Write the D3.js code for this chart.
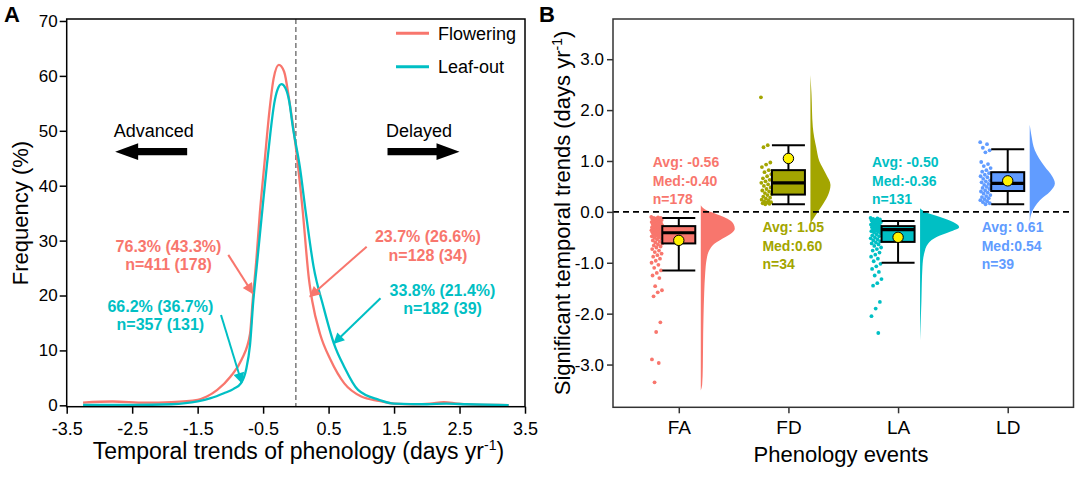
<!DOCTYPE html>
<html><head><meta charset="utf-8">
<script src="https://cdn.jsdelivr.net/npm/d3@7"></script>
<style>body{margin:0;background:#fff}svg{display:block;font-family:Arial,"Liberation Sans",Helvetica,sans-serif}</style>
</head><body><svg id="c" width="1080" height="482"></svg>
<script>
// ---------- Panel A data ----------
const flowX = [-3.25,-2.8,-2.3,-1.9,-1.5,-1.36,-1.2,-1.0,-0.83,-0.7,-0.66,-0.6,-0.55,-0.48,-0.4,-0.34,-0.26,-0.18,-0.1,0.0,0.1,0.2,0.25,0.37,0.53,0.74,1.0,1.27,1.5,1.8,2.05,2.26,2.47,2.8,3.25];
const flowY = [0.5,0.7,0.5,0.6,1.0,1.6,2.8,5.2,8.3,13,19,27,35,44,54,59.5,62,60.8,55.5,47,36,23,19,13,8.3,4,1.6,0.8,0.3,0.2,0.3,0.6,0.3,0.1,0.05];
const leafX = [-3.25,-2.5,-1.9,-1.5,-1.3,-1.1,-0.95,-0.84,-0.76,-0.7,-0.65,-0.6,-0.55,-0.5,-0.44,-0.39,-0.33,-0.28,-0.22,-0.16,-0.1,-0.05,0.06,0.16,0.27,0.42,0.58,0.74,0.95,1.27,1.5,2.0,2.3,2.6,3.25];
const leafY = [0.1,0.1,0.2,0.7,1.3,2.2,3.0,4.0,6.5,11,19,25,31,37,44,49.5,55,57.5,58.5,57.8,55.3,51,43.5,34.4,25.3,18,11.3,7,2.8,1.0,0.3,0.2,0.3,0.2,0.05];
const seriesA = ["Flowering","Leaf-out"];
const xTicksA = [-3.5,-2.5,-1.5,-0.5,0.5,1.5,2.5,3.5];
const yTicksA = [0,10,20,30,40,50,60,70];
const annoLine1 = ["76.3% (43.3%)","66.2% (36.7%)","23.7% (26.6%)","33.8% (21.4%)"];
const annoLine2 = ["n=411 (178)","n=357 (131)","n=128 (34)","n=182 (39)"];

// ---------- Panel B data ----------
const categoriesB = ["FA","FD","LA","LD"];
const boxQ1  = [-0.62, 0.34, -0.59, 0.41];
const boxMed = [-0.41, 0.57, -0.35, 0.56];
const boxQ3  = [-0.28, 0.82, -0.28, 0.78];
const whiskLo = [-1.15, 0.15, -1.0, 0.15];
const whiskHi = [-0.12, 1.31, -0.18, 1.23];
const means = [-0.56, 1.05, -0.50, 0.61];
const avgLabels = ["Avg: -0.56","Avg: 1.05","Avg: -0.50","Avg: 0.61"];
const medLabels = ["Med:-0.40","Med:0.60","Med:-0.36","Med:0.54"];
const nLabels = ["n=178","n=34","n=131","n=39"];
const yTicksB = [-3,-2,-1,0,1,2,3];
const ptsFA = [-0.10,-0.11,-0.12,-0.12,-0.13,-0.14,-0.15,-0.15,-0.16,-0.17,-0.18,-0.18,-0.19,-0.20,-0.21,-0.21,-0.22,-0.23,-0.24,-0.24,-0.25,-0.26,-0.27,-0.27,-0.28,-0.29,-0.30,-0.30,-0.31,-0.32,-0.33,-0.33,-0.34,-0.35,-0.36,-0.36,-0.37,-0.38,-0.39,-0.40,-0.41,-0.42,-0.43,-0.44,-0.45,-0.46,-0.47,-0.48,-0.50,-0.51,-0.52,-0.54,-0.56,-0.58,-0.60,-0.62,-0.64,-0.66,-0.68,-0.70,-0.73,-0.76,-0.79,-0.82,-0.85,-0.88,-0.92,-0.96,-1.00,-1.04,-1.10,-1.15,-1.20,-1.25,-1.30,-1.46,-1.54,-1.58,-1.66,-2.17,-2.36,-2.90,-2.97,-3.35];
const ptsFD = [2.25,1.31,1.27,0.97,0.93,0.88,0.82,0.78,0.74,0.70,0.66,0.63,0.60,0.57,0.54,0.51,0.48,0.45,0.42,0.40,0.37,0.35,0.33,0.30,0.28,0.26,0.24,0.22,0.20,0.19,0.18,0.17,0.16,0.15];
const ptsLA = [-0.12,-0.13,-0.14,-0.15,-0.16,-0.17,-0.18,-0.19,-0.20,-0.21,-0.22,-0.23,-0.24,-0.25,-0.26,-0.27,-0.28,-0.29,-0.30,-0.31,-0.32,-0.33,-0.34,-0.35,-0.36,-0.37,-0.38,-0.39,-0.40,-0.42,-0.44,-0.46,-0.48,-0.50,-0.52,-0.54,-0.56,-0.58,-0.60,-0.62,-0.64,-0.67,-0.70,-0.73,-0.76,-0.80,-0.84,-0.88,-0.92,-0.97,-1.02,-1.07,-1.12,-1.18,-1.25,-1.32,-1.40,-1.45,-1.77,-1.90,-2.05,-2.38];
const ptsLD = [1.37,1.33,1.26,1.21,1.17,0.98,0.94,0.90,0.86,0.82,0.79,0.76,0.73,0.70,0.68,0.65,0.62,0.60,0.58,0.55,0.53,0.51,0.49,0.47,0.45,0.42,0.40,0.38,0.36,0.33,0.31,0.29,0.27,0.25,0.23,0.21,0.19,0.17,0.15];
// half-violin profiles: y value and relative density
const vioFA_y = [0.13,0.08,0.02,-0.04,-0.1,-0.17,-0.25,-0.33,-0.41,-0.49,-0.56,-0.62,-0.7,-0.8,-0.94,-1.2,-1.6,-2.06,-2.4,-3.05,-3.4,-3.51];
const vioFA_d = [0,0.06,0.2,0.45,0.68,0.87,0.97,1.0,0.92,0.74,0.55,0.41,0.3,0.22,0.17,0.13,0.1,0.08,0.07,0.06,0.04,0];
const vioFD_y = [2.69,2.33,1.67,1.27,1.0,0.74,0.53,0.3,0.1,-0.1,-0.23];
const vioFD_d = [0,0.03,0.07,0.17,0.26,0.46,0.59,0.5,0.32,0.12,0];
const vioLA_y = [0.07,0.0,-0.1,-0.2,-0.3,-0.39,-0.49,-0.62,-0.82,-1.08,-1.74,-2.53];
const vioLA_d = [0,0.15,0.59,0.97,1.15,0.88,0.5,0.24,0.12,0.07,0.04,0];
const vioLD_y = [1.71,1.5,1.21,0.89,0.7,0.56,0.4,0.23,0.1,-0.03,-0.2];
const vioLD_d = [0,0.05,0.15,0.44,0.66,0.74,0.6,0.3,0.15,0.05,0];

const colA = {"Flowering":"#F8766D","Leaf-out":"#00BFC4"};
const colB = ["#F8766D","#A3A500","#00BFC4","#619CFF"];

const svg = d3.select("#c");
svg.append("rect").attr("width",1080).attr("height",482).attr("fill","#fff");

// ================= Panel A =================
const A = {l:66.7, r:525, t:19, b:406.7};
const xA = d3.scaleLinear().domain([-3.5,3.5]).range([A.l,A.r]);
const yA = d3.scaleLinear().domain([-0.25,70.36]).range([A.b,A.t]);

const gA = svg.append("g");
const axL = gA.append("g").attr("transform",`translate(${A.l},0)`)
  .call(d3.axisLeft(yA).tickValues(yTicksA).tickSize(7).tickPadding(2).tickFormat(d=>d));
const axB = gA.append("g").attr("transform",`translate(0,${A.b})`)
  .call(d3.axisBottom(xA).tickValues(xTicksA).tickSize(7).tickPadding(9).tickFormat(d=>d.toFixed(1)));
[axL,axB].forEach(a=>{a.select(".domain").remove();a.selectAll("line").attr("stroke","#000").attr("stroke-width",1.5);
  a.selectAll("text").attr("fill","#000").style("font-family","Arial,'Liberation Sans',sans-serif");});
axL.selectAll("text").style("font-size","17px");
axB.selectAll("text").style("font-size","18px");

gA.append("line").attr("x1",xA(0)).attr("x2",xA(0)).attr("y1",A.t).attr("y2",A.b)
  .attr("stroke","#7a7a7a").attr("stroke-width",1.5).attr("stroke-dasharray","5,3");

const lineA = d3.line().x(d=>xA(d[0])).y(d=>yA(d[1])).curve(d3.curveMonotoneX);
const dataA = {"Flowering":d3.zip(flowX,flowY),"Leaf-out":d3.zip(leafX,leafY)};
seriesA.forEach(s=>{
  gA.append("path").attr("d",lineA(dataA[s])).attr("fill","none")
    .attr("stroke",colA[s]).attr("stroke-width",2.3).attr("stroke-linejoin","round");
});

gA.append("rect").attr("x",A.l).attr("y",A.t).attr("width",A.r-A.l).attr("height",A.b-A.t)
  .attr("fill","none").attr("stroke","#000").attr("stroke-width",1.5);

seriesA.forEach((s,i)=>{
  const y = 33.3 + i*33.4;
  gA.append("line").attr("x1",396).attr("x2",429).attr("y1",y).attr("y2",y)
    .attr("stroke",colA[s]).attr("stroke-width",3);
  gA.append("text").attr("x",438).attr("y",y+6.5).attr("font-size",18).text(s);
});

function bigArrow(x0,x1,y){ // x1 is tip
  const dir = Math.sign(x1-x0), hl=23, hh=8.3, sh=3.6;
  const xb = x1 - dir*hl;
  return `M${x0},${y-sh}L${xb},${y-sh}L${xb},${y-hh}L${x1},${y}L${xb},${y+hh}L${xb},${y+sh}L${x0},${y+sh}Z`;
}
gA.append("path").attr("d",bigArrow(xA(-1.66),xA(-2.76),yA(46.2))).attr("fill","#000");
gA.append("path").attr("d",bigArrow(xA(1.40),xA(2.50),yA(46.2))).attr("fill","#000");
gA.append("text").attr("x",xA(-2.17)).attr("y",yA(48.9)).attr("text-anchor","middle").attr("font-size",18).text("Advanced");
gA.append("text").attr("x",xA(1.88)).attr("y",yA(48.9)).attr("text-anchor","middle").attr("font-size",18).text("Delayed");

const defs = svg.append("defs");
seriesA.forEach((s,i)=>{
  defs.append("marker").attr("id","ah"+i).attr("viewBox","0 0 10 10").attr("refX",9).attr("refY",5)
    .attr("markerWidth",12).attr("markerHeight",11).attr("markerUnits","userSpaceOnUse").attr("orient","auto")
    .append("path").attr("d","M0,0L10,5L0,10Z").attr("fill",colA[s]);
});
const annoSeries = [0,1,0,1];
const annoText = [[-1.945,28.0],[-2.07,17.05],[2.017,29.7],[2.24,20.0]];
const annoFrom = [[-1.032,27.4],[-1.143,16.45],[1.082,28.9],[1.293,19.5]];
const annoTo   = [[-0.659,20.4],[-0.827,4.1],[0.216,19.8],[0.583,11.3]];
annoLine1.forEach((t,i)=>{
  const c = colA[seriesA[annoSeries[i]]];
  const tx = gA.append("text").attr("x",xA(annoText[i][0])).attr("y",yA(annoText[i][1]))
    .attr("text-anchor","middle").attr("font-size",16).attr("font-weight","bold").attr("fill",c);
  tx.append("tspan").text(t);
  tx.append("tspan").attr("x",xA(annoText[i][0])).attr("dy",18.4).text(annoLine2[i]);
  gA.append("line").attr("x1",xA(annoFrom[i][0])).attr("y1",yA(annoFrom[i][1]))
    .attr("x2",xA(annoTo[i][0])).attr("y2",yA(annoTo[i][1]))
    .attr("stroke",c).attr("stroke-width",2).attr("marker-end",`url(#ah${annoSeries[i]})`);
});

const tA = gA.append("text").attr("x",298.5).attr("y",459).attr("text-anchor","middle").attr("font-size",23);
tA.append("tspan").text("Temporal trends of phenology (days yr");
tA.append("tspan").attr("font-size",14).attr("dy",-9).text("-1");
tA.append("tspan").attr("dy",9).text(")");
gA.append("text").attr("transform",`translate(28,213) rotate(-90)`).attr("text-anchor","middle").attr("font-size",22).text("Frequency (%)");
svg.append("text").attr("x",4).attr("y",22).attr("font-size",22).attr("font-weight","bold").text("A");

// ================= Panel B =================
const B = {l:613, r:1073.5, t:19, b:407.3};
const xB = d3.scalePoint().domain(categoriesB).range([B.l,B.r]).padding(0.6);
const yB = d3.scaleLinear().domain([-3.84,3.79]).range([B.b,B.t]);
const gB = svg.append("g");

const bL = gB.append("g").attr("transform",`translate(${B.l},0)`)
  .call(d3.axisLeft(yB).tickValues(yTicksB).tickSize(6).tickPadding(3).tickFormat(d=>d.toFixed(1)));
const bB = gB.append("g").attr("transform",`translate(0,${B.b})`)
  .call(d3.axisBottom(xB).tickSize(6).tickPadding(7));
[bL,bB].forEach(a=>{a.select(".domain").remove();a.selectAll("line").attr("stroke","#333").attr("stroke-width",1.5);
  a.selectAll("text").attr("fill","#000").style("font-family","Arial,'Liberation Sans',sans-serif");});
bL.selectAll("text").style("font-size","17px");
bB.selectAll("text").style("font-size","19px");

const ptsB = [ptsFA,ptsFD,ptsLA,ptsLD];
const vioY = [vioFA_y,vioFD_y,vioLA_y,vioLD_y];
const vioD = [vioFA_d,vioFD_d,vioLA_d,vioLD_d];
const wScale = d3.scaleLinear().domain([0,1]).range([0,34]);
const boxHalf = 16.5, vioOff = 22, ptOff = -22, jitW = 11;

categoriesB.forEach((c,i)=>{
  const cx = xB(c);
  gB.append("g").selectAll("circle").data(ptsB[i]).join("circle")
    .attr("cx",(d,k)=>cx+ptOff+(((k*0.618034)%1)-0.5)*jitW)
    .attr("cy",d=>yB(d)).attr("r",1.9).attr("fill",colB[i]);
  const area = d3.area().y(d=>yB(d[0])).x0(cx+vioOff).x1(d=>cx+vioOff+wScale(d[1])).curve(d3.curveMonotoneY);
  gB.append("path").attr("d",area(d3.zip(vioY[i],vioD[i]))).attr("fill",colB[i]);
});

gB.append("line").attr("x1",B.l).attr("x2",B.r).attr("y1",yB(0)).attr("y2",yB(0))
  .attr("stroke","#000").attr("stroke-width",1.8).attr("stroke-dasharray","6,4");

categoriesB.forEach((c,i)=>{
  const cx = xB(c);
  const g = gB.append("g").attr("stroke","#000").attr("stroke-width",2);
  g.append("line").attr("x1",cx).attr("x2",cx).attr("y1",yB(whiskHi[i])).attr("y2",yB(whiskLo[i]));
  g.append("line").attr("x1",cx-boxHalf).attr("x2",cx+boxHalf).attr("y1",yB(whiskHi[i])).attr("y2",yB(whiskHi[i]));
  g.append("line").attr("x1",cx-boxHalf).attr("x2",cx+boxHalf).attr("y1",yB(whiskLo[i])).attr("y2",yB(whiskLo[i]));
  g.append("rect").attr("x",cx-boxHalf).attr("width",boxHalf*2).attr("y",yB(boxQ3[i]))
    .attr("height",yB(boxQ1[i])-yB(boxQ3[i])).attr("fill",colB[i]);
  g.append("line").attr("x1",cx-boxHalf).attr("x2",cx+boxHalf).attr("y1",yB(boxMed[i])).attr("y2",yB(boxMed[i]))
    .attr("stroke-width",3.2);
  g.append("circle").attr("cx",cx).attr("cy",yB(means[i])).attr("r",5.2).attr("fill","#FFF200").attr("stroke-width",1);
  const above = means[i] < 0;
  const y0 = above ? yB(0)-44.4 : yB(0)+20.4;
  const t = gB.append("text").attr("font-size",14).attr("font-weight","bold").attr("fill",colB[i]);
  [avgLabels[i],medLabels[i],nLabels[i]].forEach((s,k)=>{
    t.append("tspan").attr("x",cx-26).attr("y",y0+k*18.4).text(s);
  });
});

gB.append("rect").attr("x",B.l).attr("y",B.t).attr("width",B.r-B.l).attr("height",B.b-B.t)
  .attr("fill","none").attr("stroke","#333").attr("stroke-width",1.5);

gB.append("text").attr("x",841).attr("y",462).attr("text-anchor","middle").attr("font-size",22).text("Phenology events");
const tB = gB.append("text").attr("transform",`translate(570,213) rotate(-90)`).attr("text-anchor","middle").attr("font-size",22);
tB.append("tspan").text("Significant temporal trends (days yr");
tB.append("tspan").attr("font-size",14).attr("dy",-8).text("-1");
tB.append("tspan").attr("dy",8).text(")");
svg.append("text").attr("x",539).attr("y",22).attr("font-size",22).attr("font-weight","bold").text("B");
</script></body></html>
